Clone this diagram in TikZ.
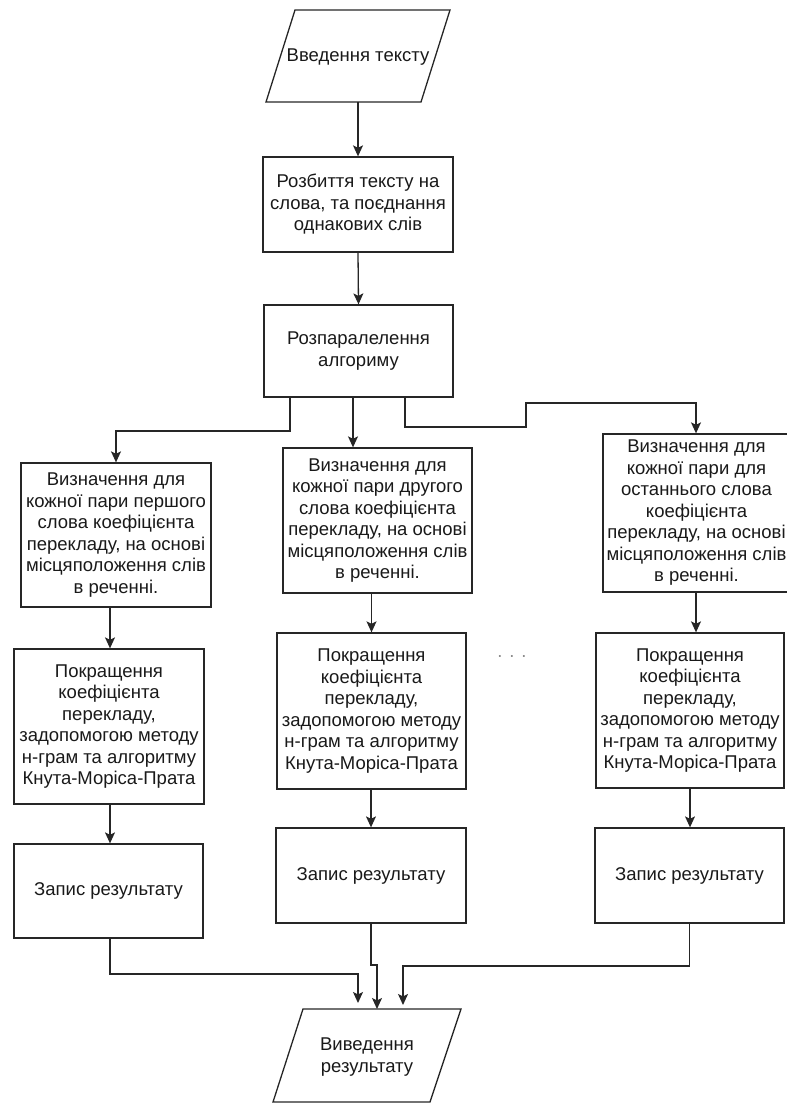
\documentclass[tikz,border=0pt]{standalone}
\usepackage{fontspec}
\setmainfont{Liberation Sans}
\usetikzlibrary{arrows.meta}
\begin{document}
\begin{tikzpicture}[x=1pt,y=-1pt,
  every node/.style={font=\fontsize{18.5}{21.5}\selectfont, text=black!90, inner sep=0pt, align=center},
  box/.style={draw=black!85, line width=1.3pt, rectangle},
  io/.style={draw=black!85, line width=1.3pt},
  arr/.style={-{Stealth[length=11pt,width=10pt,inset=2.5pt]}, line width=1.3pt, draw=black!85},
  dots/.style={text=black!45}
]
\useasboundingbox (0,0) rectangle (787,1103);

% input parallelogram
\draw[io] (295,10) -- (450,10) -- (421,102) -- (266,102) -- cycle;
\node (in) at (358,57) {Введення тексту};
\coordinate (inB) at (358,102);

\node[box, minimum width=190pt, minimum height=95pt] (b2) at (358,204.5)
  {Розбиття тексту на\\слова, та поєднання\\однакових слів};
\node[box, minimum width=189pt, minimum height=92pt] (b3) at (358.5,351)
  {Розпаралелення\\алгориму};

% left column
\node[box, minimum width=190pt, minimum height=144pt] (l1) at (116,535)
  {Визначення для\\кожної пари першого\\слова коефіцієнта\\перекладу, на основі\\місцяположення слів\\в реченні.};
\node[box, minimum width=190pt, minimum height=155pt] (l2) at (109,726.5)
  {Покращення\\коефіцієнта\\перекладу,\\задопомогою методу\\н-грам та алгоритму\\Кнута-Моріса-Прата};
\node[box, minimum width=189pt, minimum height=94pt] (l3) at (108.5,891)
  {Запис результату};

% middle column
\node[box, minimum width=189pt, minimum height=145pt] (m1) at (377.5,520.5)
  {Визначення для\\кожної пари другого\\слова коефіцієнта\\перекладу, на основі\\місцяположення слів\\в реченні.};
\node[box, minimum width=189pt, minimum height=156pt] (m2) at (371.5,711)
  {Покращення\\коефіцієнта\\перекладу,\\задопомогою методу\\н-грам та алгоритму\\Кнута-Моріса-Прата};
\node[box, minimum width=190pt, minimum height=95pt] (m3) at (371,875.5)
  {Запис результату};

% right column
\node[box, minimum width=187pt, minimum height=158pt] (r1) at (696.5,513)
  {Визначення для\\кожної пари для\\останнього слова\\коефіцієнта\\перекладу, на основі\\місцяположення слів\\в реченні.};
\node[box, minimum width=188pt, minimum height=155pt] (r2) at (690,710.5)
  {Покращення\\коефіцієнта\\перекладу,\\задопомогою методу\\н-грам та алгоритму\\Кнута-Моріса-Прата};
\node[box, minimum width=189pt, minimum height=95pt] (r3) at (689.5,875.5)
  {Запис результату};

\node[dots] (dd) at (512,657) {. . .};

% output parallelogram
\draw[io] (303,1009) -- (461,1009) -- (430,1102) -- (273,1102) -- cycle;
\node (out) at (367,1057) {Виведення\\результату};
\coordinate (outT1) at (358,1003);
\coordinate (outT2) at (377,1009);
\coordinate (outT3) at (403,1005);

% connectors top
\draw[arr] (inB) -- (b2.north);
\draw[arr] (b2.south) -- (b3.north);
\draw[arr] ([xshift=-68.5pt]b3.south) -- (290,431) -| (l1.north);
\draw[arr] ([xshift=-5.5pt]b3.south) -- ([xshift=-5.5pt]b3.south |- m1.north);
\draw[arr] ([xshift=46.5pt]b3.south) -- (405,427) -- (526,427) -- (526,403) -| ([xshift=-0.5pt]r1.north);

% columns
\draw[arr] (l1.south -| 110,0) -- (l2.north -| 110,0);
\draw[arr] (l2.south -| 110,0) -- (l3.north -| 110,0);
\draw[arr] (m1.south -| m2.north) -- (m2.north);
\draw[arr] (m2.south -| m3.north) -- (m3.north);
\draw[arr] ([xshift=-0.5pt]r1.south) -- ([xshift=-0.5pt]r1.south |- r2.north);
\draw[arr] (r2.south) -- (r2.south |- r3.north);

% merge
\draw[arr] (l3.south -| 110,0) |- (358,974) -- (outT1);
\draw[arr] (m3.south) |- (377,965) -- (outT2);
\draw[arr] (r3.south) |- (403,966) -- (outT3);
\end{tikzpicture}
\end{document}
